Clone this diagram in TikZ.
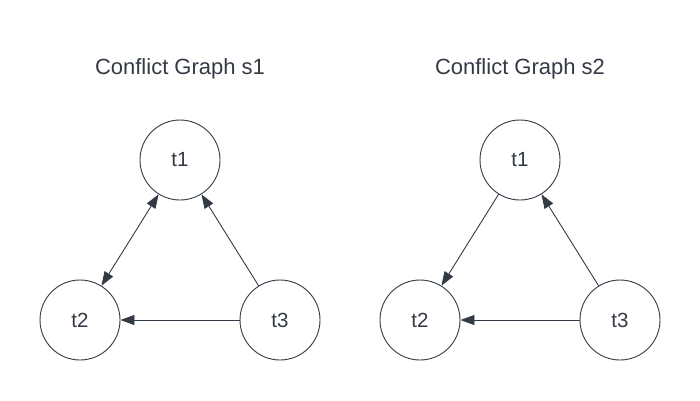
\documentclass[tikz,border=0pt]{standalone}
\usepackage{fontspec}
\setmainfont{Liberation Sans}
\usetikzlibrary{arrows.meta}
\definecolor{ink}{HTML}{333A45}
\begin{document}
\begin{tikzpicture}[x=1pt,y=-1pt,
  vert/.style={circle,draw=ink,line width=0.9pt,minimum size=80pt,inner sep=0pt,text=ink,font=\fontsize{20.5}{24}\selectfont},
  title/.style={text=ink,font=\fontsize{22}{26}\selectfont},
  edge/.style={draw=ink,line width=0.9pt,-{Triangle[length=14pt,width=10pt]}},
  bedge/.style={draw=ink,line width=0.9pt,{Triangle[length=14pt,width=10pt]}-{Triangle[length=14pt,width=10pt]}}]
\useasboundingbox (0,0) rectangle (700,400);
\node[title] (ta) at (180,69) {Conflict Graph s1};
\node[title] (tb) at (520,69) {Conflict Graph s2};
\node[vert] (a1) at (180,160) {t1};
\node[vert] (a2) at (80,320) {t2};
\node[vert] (a3) at (280,320) {t3};
\node[vert] (b1) at (520,160) {t1};
\node[vert] (b2) at (420,320) {t2};
\node[vert] (b3) at (620,320) {t3};
\draw[bedge] (a1) -- (a2);
\draw[edge] (a3) -- (a1);
\draw[edge] (a3) -- (a2);
\draw[edge] (b1) -- (b2);
\draw[edge] (b3) -- (b1);
\draw[edge] (b3) -- (b2);
\end{tikzpicture}
\end{document}
